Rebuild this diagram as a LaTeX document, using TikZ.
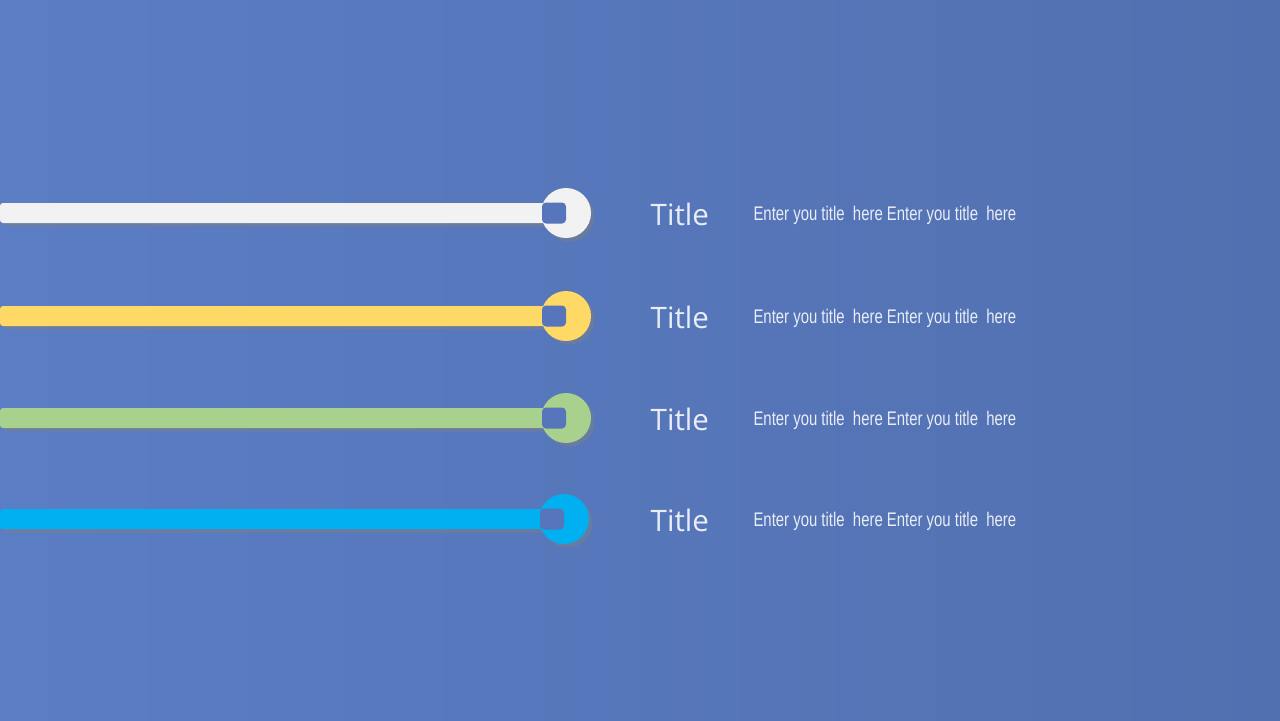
\documentclass[tikz,border=0pt]{standalone}
\usepackage{fontspec}
\setsansfont{Open Sans}
\newfontfamily\narrowfont{Liberation Sans}
\usetikzlibrary{shadows,positioning}

\definecolor{bgleft}{HTML}{5B7DC4}
\definecolor{bgright}{HTML}{5170B0}
\definecolor{hole}{HTML}{5675BA}
\definecolor{barwhite}{HTML}{F2F2F2}
\definecolor{baryellow}{HTML}{FFD966}
\definecolor{bargreen}{HTML}{A9D18E}
\definecolor{barcyan}{HTML}{00B0F0}
\definecolor{txt}{HTML}{E9EDF6}

\tikzset{
  knob/.style={circle, minimum size=50*0.01cm, inner sep=0pt,
    drop shadow={shadow xshift=0.035cm, shadow yshift=-0.035cm, opacity=0.45}},
  slot/.style={rounded corners=0.04cm, fill=hole},
  heading/.style={text=txt, font=\sffamily\fontsize{8.4}{10}\selectfont, inner sep=0pt, anchor=west},
  blurb/.style={text=txt, font=\narrowfont\fontsize{5.6}{6}\selectfont, inner sep=0pt, anchor=west, xscale=0.757}
}

\begin{document}
\begin{tikzpicture}[x=0.01cm, y=-0.01cm]
  \useasboundingbox (0,0) rectangle (1280,720);
  \shade[left color=bgleft, right color=bgright] (0,0) rectangle (1280,720);

  \foreach \i/\y/\cx/\col in {1/213/566/barwhite, 2/316/566/baryellow, 3/418/566/bargreen, 4/519/564/barcyan}{
    % bar
    \fill[\col, rounded corners=0.03cm,
      drop shadow={shadow xshift=0.03cm, shadow yshift=-0.035cm, opacity=0.45}]
      (0,\y-10) rectangle (\cx-20,\y+10);
    % knob and slot
    \node[knob, fill=\col] (c\i) at (\cx,\y) {};
    \fill[slot] (\cx-24,\y-10.5) rectangle (\cx,\y+10.5);
    % texts
    \node[heading] (t\i) at (650,\y+1) {Title};
    \node[blurb] (d\i) at (753,\y+2) {Enter you title\ \ here Enter you title\ \ here};
  }
\end{tikzpicture}
\end{document}
